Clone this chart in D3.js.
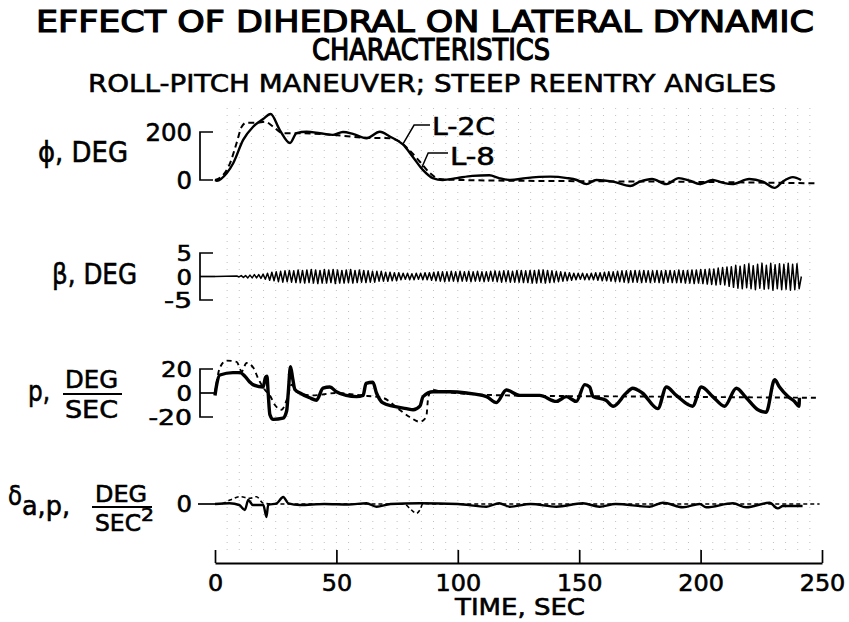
<!DOCTYPE html>
<html>
<head>
<meta charset="utf-8">
<script src="https://cdn.jsdelivr.net/npm/d3@7.9.0/dist/d3.min.js"></script>
<style>
  html, body { margin: 0; padding: 0; background: #fff; }
  svg { display: block; }
  text { font-family: "DejaVu Sans", sans-serif; fill: #000; stroke: #000; stroke-width: 0.6; }
  text.title { stroke-width: 1.2; }
</style>
</head>
<body>
<svg id="chart" width="849" height="622"></svg>
<script>
// ---- data: [time sec, value] ----
const phiL2C = [[0,0],[0.8,-3],[4.8,28],[7.5,70],[11.6,167],[15.7,222],[19.8,254],[22.9,275],[26.7,208],[30.9,154],
  [33.6,195],[37.7,201],[43.2,195],[48.6,188],[52.7,200],[56.8,192],[62.4,174],[67.9,201],[72,181],[77.4,148],
  [81.5,96],[85.6,42],[89.7,8],[93.8,0],[99.6,8],[106,17],[113,20],[117,8],[121.6,0],[128,8],[138,14],[145,8],
  [149,0],[153,-17],[157,0],[164,-7],[171,-25],[175,-7],[180,4],[186,-17],[191,8],[195.5,-3],[199.6,-17],[205,0],
  [209,-11],[213,-17],[220,4],[225.6,-7],[230.5,-33],[233.8,-7],[238,12],[241.4,0]];
const phiL8 = [[0,0],[2.7,14],[6.2,70],[8.9,154],[11,222],[13,239],[17.1,239],[20.6,243],[24,222],[28,195],[35,195],
  [48.6,188],[62.4,176],[72,174],[76,160],[80,125],[84.4,76],[88.5,29],[92.6,4],[100.8,0],[150,-5],[200,-8],[247.6,-14]];

const betaStartT = 9;
const betaEndT = 241.5;
const betaPeaks = [
  0.1,-0.1,0.2,-0.2,0.2,-0.3,0.3,-0.3,0.4,-0.3,0.4,-0.4,0.5,
  -0.6,0.7,-0.8,0.9,-0.9,
  1.0,-1.1,1.1,-1.2,1.2,-1.1,1.3,-1.2,1.2,-1.3,1.4,-1.3,1.3,-1.4,1.4,-1.3,1.5,-1.4,1.4,-1.5,1.3,-1.4,1.5,-1.4,
  1.4,-1.3,1.5,-1.5,1.4,-1.4,1.3,-1.4,1.4,-1.3,1.5,-1.4,1.3,-1.3,1.4,-1.2,1.3,-1.3,1.2,-1.2,1.1,-1.2,1.1,-1.0,
  1.1,-1.0,0.9,-1.0,0.9,-0.9,0.8,-0.9,0.8,
  -0.7,0.7,-0.6,0.7,-0.7,0.6,-0.7,0.7,-0.6,0.7,-0.7,0.8,-0.7,0.8,-0.8,0.9,-0.9,
  1.0,-1.0,1.0,-1.1,1.0,-1.0,1.1,-1.0,1.0,-1.1,1.1,-1.0,1.0,-1.0,1.1,-1.1,1.0,-1.0,1.1,-1.0,1.0,-1.1,1.0,-1.0,
  1.1,-1.0,1.2,-1.1,1.1,-1.2,1.2,-1.1,1.2,-1.2,1.1,-1.2,1.3,-1.2,1.3,-1.3,1.2,-1.3,1.3,-1.4,
  1.3,-1.4,1.4,-1.3,1.4,-1.4,1.3,-1.3,1.2,-1.2,1.1,-1.1,1.0,-1.0,0.9,-0.9,0.8,
  -0.8,0.7,-0.7,0.7,-0.6,0.7,-0.7,0.6,-0.7,0.7,-0.7,0.8,-0.8,0.8,-0.9,0.9,-0.9,1.0,-1.0,1.0,-1.1,1.1,
  -1.1,1.2,-1.2,1.2,-1.3,1.2,-1.2,1.3,-1.2,1.2,-1.3,1.3,-1.2,1.2,-1.3,1.2,-1.2,1.3,-1.3,1.2,-1.4,1.3,-1.2,1.3,
  -1.3,1.2,-1.3,1.4,-1.3,1.3,-1.4,1.3,-1.4,1.4,-1.5,1.4,-1.4,1.5,-1.5,
  1.5,-1.6,1.6,-1.7,1.6,-1.8,1.8,-1.7,1.9,-1.8,2.0,-2.1,2.1,
  -2.3,2.4,-2.5,2.2,-2.6,2.5,-2.4,2.7,-2.6,2.3,-2.8,2.6,-2.5,2.8,-2.7,2.4,-2.6,2.8,-2.9,2.5,-2.6,2.7,-2.8,2.6,
  -2.7,2.8,-2.9,2.6,-2.8,2.7,-2.6,0];

const pL2C = [[0,-2],[0.7,7],[2,15],[7.4,17],[10.3,17],[12.3,14],[14.4,9],[15.6,7],[19.8,5],[20.8,13],[21.4,14],[21.9,0],
  [22.6,-18],[24,-22],[28,-21],[29.5,-15],[30.2,1],[31.1,22],[32,12],[32.9,3],[35,0],[39,-4],[41.8,-6],[44.5,4],
  [47.3,5],[50,1],[54,-2],[58.3,-3],[61,-2],[62.2,8],[65,9],[66.5,0],[69,-8],[73.3,-11],[78.9,-13],[81.6,-14],
  [84.4,-11],[85.7,-3],[89.8,1],[96.7,1],[103.6,0],[111.8,-3],[115.9,-8],[120,2.5],[125.5,-2],[133.7,-2],
  [140.6,-7],[144.7,-3],[148.8,-7],[152.3,7],[154.3,5],[155.7,-3],[161,-6],[164,-11],[169.4,0],[172,4],[176,0],
  [182.4,-13],[185.9,5],[190,-2],[196.7,-11],[200.3,5],[205,-3],[209.9,-11],[214.7,4],[218.8,-4],[223.6,-14],
  [227,-16],[230.5,11],[232.5,5],[236,-3],[238.7,-7],[240.5,-11],[240.7,-4]];
const pL8 = [[0,0],[2,21],[4.8,27],[8.9,26],[11,18],[13,25],[15.8,21],[17.8,12],[20.6,2.5],[22.6,-2],[24.7,-10],
  [27.4,-14],[29.5,-6],[31.6,7],[33.6,1],[40,-2],[50,0],[60,-2],[69,-4],[76,-14],[80.2,-20],[84.4,-24],[87,-20],
  [87.8,-4],[89.2,2.5],[94,1],[120,-2],[180,-3],[249,-4]];

const dL2C = [[0,0],[6,0.7],[10,-1],[12.3,-6],[13.7,4],[15.6,-1],[19.9,-1],[21.2,-13],[21.9,-1],[25.4,0.7],[28.1,7],
  [30.2,0.7],[35,-1],[45,0],[55,-0.5],[62.4,0.7],[66.5,-2.7],[72.3,0],[84.4,0.7],[100,0],[111.8,-2.7],[117,0.7],
  [121.4,-2.7],[130,0],[140.6,-2.7],[151.5,0.7],[158.4,-2.7],[165,0],[179,-2.7],[184.5,1.3],[192.7,-3.3],[199.6,0],
  [202.3,-3.3],[213.3,0.7],[218.8,-3.3],[228.4,1.3],[231.8,-4.4],[233.9,-2],[242,-2]];
const dL8 = [[0,0],[2,0],[6.2,4],[10.3,7.3],[14.4,5.7],[17.1,7.3],[19.9,0.7],[25,0],[78,0],[80.2,-4.4],[83,-9.3],
  [84.4,-6],[85.7,0.7],[90,0],[249,0]];

const timeTicks = [0, 50, 100, 150, 200, 250];
const phiTicks = [0, 200];
const betaTicks = [-5, 0, 5];
const pTicks = [-20, 0, 20];

// ---- scales ----
const svg = d3.select('#chart');
const x = d3.scaleLinear().domain([0, 250]).range([215, 822]);
const yPhi = d3.scaleLinear().domain([0, 200]).range([180, 132]);
const yBeta = d3.scaleLinear().domain([-5, 5]).range([300, 253]);
const yP = d3.scaleLinear().domain([-20, 20]).range([417, 369]);
const yD = d3.scaleLinear().domain([-10, 10]).range([514, 494]);

function label(txt, px, py, size, width, anchor) {
  const t = svg.append('text')
    .attr('x', px).attr('y', py)
    .attr('font-size', size)
    .attr('text-anchor', anchor || 'start')
    .text(txt);
  if (width) t.attr('textLength', width).attr('lengthAdjust', 'spacingAndGlyphs');
  return t;
}

// titles
label('EFFECT OF DIHEDRAL ON LATERAL DYNAMIC', 36, 32, 30, 778).attr('class', 'title');
label('CHARACTERISTICS', 312, 60, 30, 238).attr('class', 'title');
label('ROLL-PITCH MANEUVER; STEEP REENTRY ANGLES', 88, 92, 25, 688);

// faint recorder grid
const gridG = svg.append('g')
  .attr('stroke', '#b0b0b0').attr('stroke-width', 0.8)
  .attr('stroke-dasharray', '1,6');
gridG.selectAll('line')
  .data(x.ticks(50).filter(d => d > 0 && d < 250))
  .join('line')
    .attr('x1', d => x(d)).attr('x2', d => x(d))
    .attr('y1', 108).attr('y2', 556);

// brackets for each panel scale
function bracket(y, ticks, midTick) {
  const g = svg.append('g').attr('fill', 'none').attr('stroke', '#000').attr('stroke-width', 1.7);
  const [lo, hi] = d3.extent(ticks);
  g.append('path').attr('d', `M213,${y(hi)}H200V${y(lo)}H213`);
  if (midTick) g.append('path').attr('d', `M200,${y(0)}H215`);
}
bracket(yPhi, phiTicks, false);
bracket(yBeta, betaTicks, true);
bracket(yP, pTicks, true);
svg.append('path').attr('d', `M198,${yD(0)}H215`).attr('stroke', '#000').attr('stroke-width', 1.7);

// tick labels on brackets
const tickFmt = d => (d < 0 ? '-' : '') + Math.abs(d);
function tickLabels(y, ticks, size, dy) {
  ticks.forEach(d => {
    const s = tickFmt(d);
    label(s, 192, y(d) + dy, size, s.length * 15.5 + (d < 0 ? -3 : 0), 'end');
  });
}
tickLabels(yPhi, phiTicks, 25, 9);
tickLabels(yBeta, betaTicks, 22, 8);
tickLabels(yP, pTicks, 22, 8);
label('0', 192, yD(0) + 8, 23, 15.5, 'end');

// axis labels on the left
label('\u03D5, DEG', 38, 162, 29, 90);
label('\u03B2, DEG', 52, 284, 28, 85);
label('p,', 28, 401, 28, 22);
label('DEG', 65, 388, 24, 53);
svg.append('line').attr('x1', 63).attr('x2', 122).attr('y1', 394).attr('y2', 394)
  .attr('stroke', '#000').attr('stroke-width', 2.2);
label('SEC', 65, 418, 24, 53);

label('\u03B4', 8, 505, 26, 14);
label('a,p,', 22, 515, 26, 48);
label('DEG', 95, 502, 23, 52);
svg.append('line').attr('x1', 92).attr('x2', 152).attr('y1', 507).attr('y2', 507)
  .attr('stroke', '#000').attr('stroke-width', 2.2);
label('SEC', 95, 531, 23, 46);
label('2', 141, 521, 18, 13);

// time axis
const axis = d3.axisBottom(x).tickValues(timeTicks)
  .tickSizeInner(-13).tickSizeOuter(0).tickPadding(0).tickFormat(d3.format('d'));
const axG = svg.append('g').attr('transform', 'translate(0,563)').call(axis);
axG.select('.domain').attr('stroke', '#000').attr('stroke-width', 1.8);
axG.selectAll('.tick line').attr('stroke', '#000').attr('stroke-width', 1.7);
axG.selectAll('.tick text')
  .attr('dy', null).attr('y', 28)
  .attr('font-size', 23)
  .attr('font-family', '"DejaVu Sans", sans-serif')
  .attr('fill', '#000')
  .attr('textLength', d => String(d).length * 15.2)
  .attr('lengthAdjust', 'spacingAndGlyphs');
label('TIME, SEC', 520, 615, 23, 130, 'middle');

// traces
function trace(data, y, opts) {
  svg.append('path')
    .datum(data)
    .attr('fill', 'none')
    .attr('stroke', '#000')
    .attr('stroke-width', opts.w)
    .attr('stroke-linejoin', 'round')
    .attr('stroke-dasharray', opts.dash || null)
    .attr('d', d3.line().x(d => x(d[0])).y(d => y(d[1])).curve(opts.curve || d3.curveMonotoneX));
}

trace(phiL8, yPhi, { w: 2, dash: '6,4' });
trace(phiL2C, yPhi, { w: 2.4 });

const betaStep = (betaEndT - betaStartT) / (betaPeaks.length - 1);
const betaData = [[0, 0]].concat(betaPeaks.map((v, i) => [betaStartT + i * betaStep, v]));
trace(betaData, yBeta, { w: 1.5, curve: d3.curveLinear });

trace(pL8, yP, { w: 1.9, dash: '5,4' });
trace(pL2C, yP, { w: 3.4 });

trace(dL8, yD, { w: 1.6, dash: '4,3' });
trace(dL2C, yD, { w: 2.4 });

// legend leaders
const lead = svg.append('g').attr('fill', 'none').attr('stroke', '#000').attr('stroke-width', 1.5);
lead.append('path').attr('d', `M${x(77.5)},${yPhi(152)}L${x(82)},125H430`);
lead.append('path').attr('d', `M${x(85)},${yPhi(48)}L${x(87.8)},153H448`);
label('L-2C', 432, 135, 25, 63);
label('L-8', 450, 165, 25, 45);
</script>
</body>
</html>
